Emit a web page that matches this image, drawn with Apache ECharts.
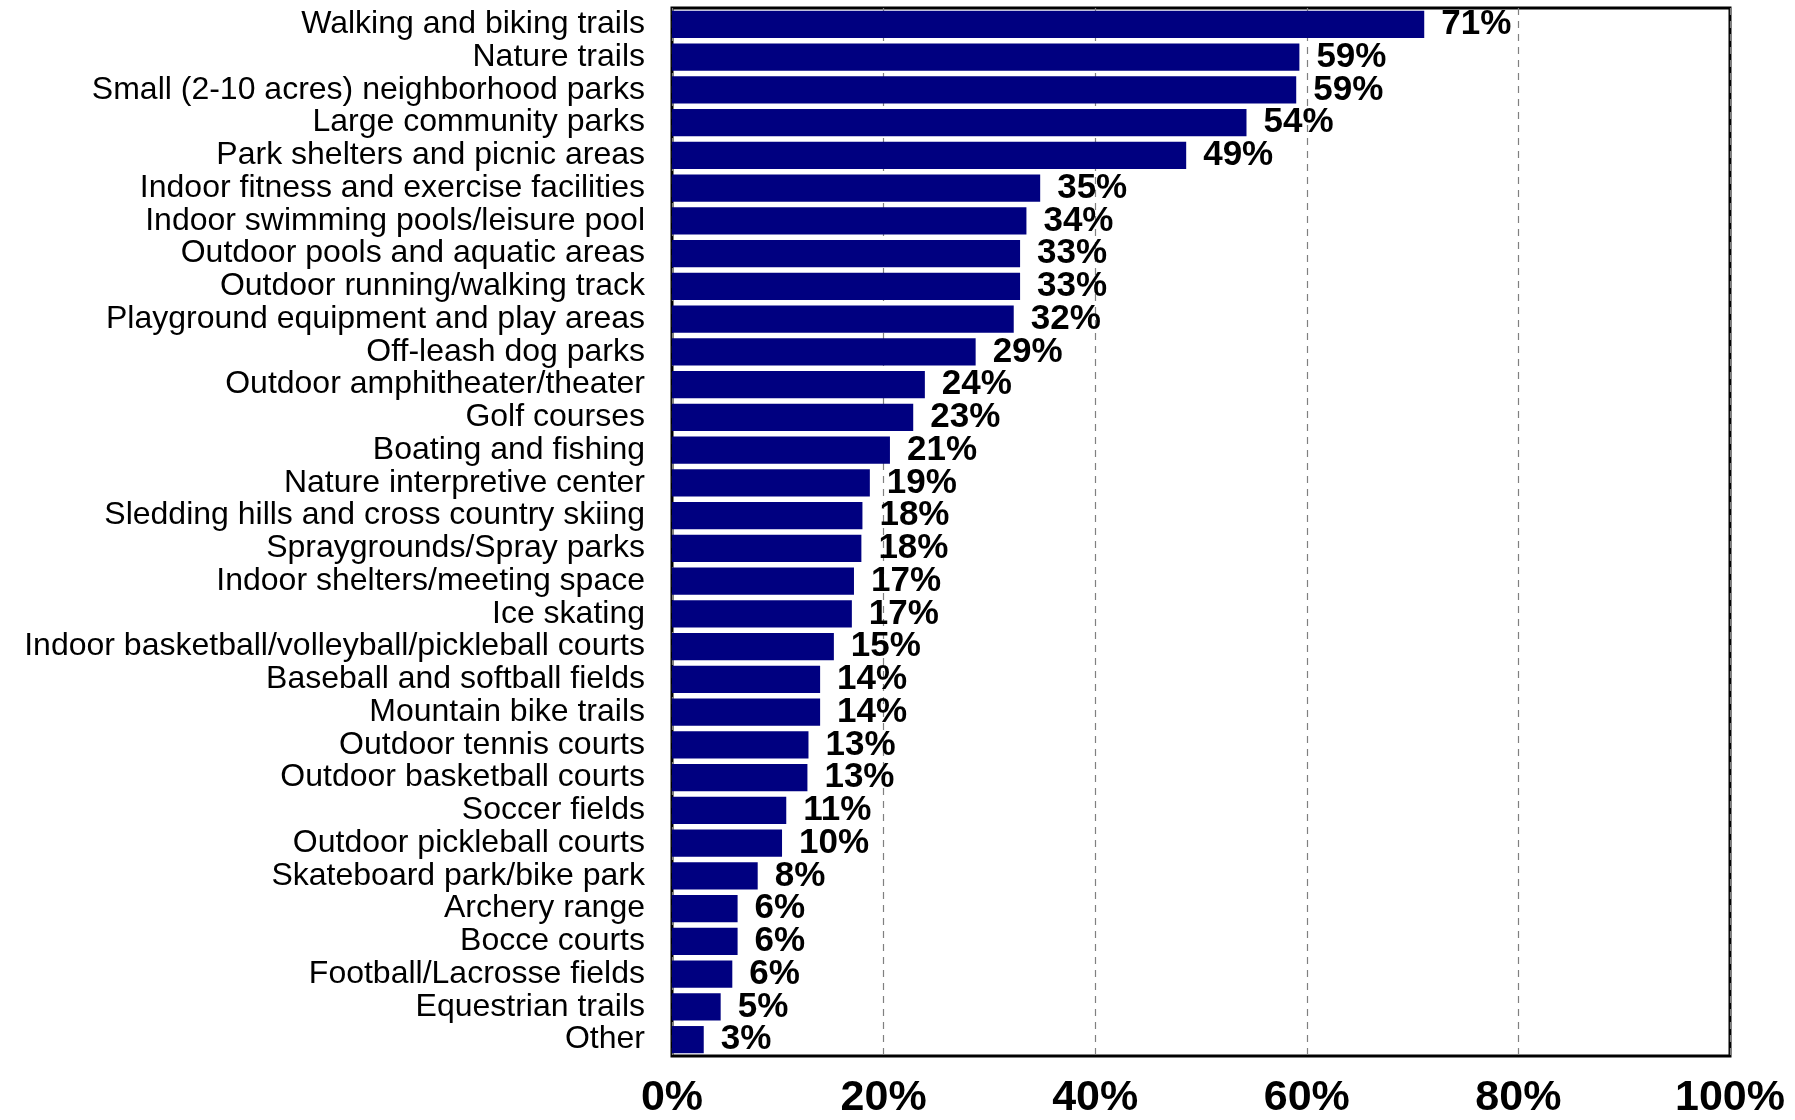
<!DOCTYPE html>
<html>
<head>
<meta charset="utf-8">
<script src="https://cdn.jsdelivr.net/npm/echarts@6/dist/echarts.min.js"></script>
<style>
html,body{margin:0;padding:0;background:#fff;}
#chart{width:1795px;height:1120px;}
</style>
</head>
<body>
<div id="chart"></div>
<script>
const categories = [
  "Walking and biking trails",
  "Nature trails",
  "Small (2-10 acres) neighborhood parks",
  "Large community parks",
  "Park shelters and picnic areas",
  "Indoor fitness and exercise facilities",
  "Indoor swimming pools/leisure pool",
  "Outdoor pools and aquatic areas",
  "Outdoor running/walking track",
  "Playground equipment and play areas",
  "Off-leash dog parks",
  "Outdoor amphitheater/theater",
  "Golf courses",
  "Boating and fishing",
  "Nature interpretive center",
  "Sledding hills and cross country skiing",
  "Spraygrounds/Spray parks",
  "Indoor shelters/meeting space",
  "Ice skating",
  "Indoor basketball/volleyball/pickleball courts",
  "Baseball and softball fields",
  "Mountain bike trails",
  "Outdoor tennis courts",
  "Outdoor basketball courts",
  "Soccer fields",
  "Outdoor pickleball courts",
  "Skateboard park/bike park",
  "Archery range",
  "Bocce courts",
  "Football/Lacrosse fields",
  "Equestrian trails",
  "Other"
];
const values = [71.1, 59.3, 59.0, 54.3, 48.6, 34.8, 33.5, 32.9, 32.9, 32.3, 28.7, 23.9, 22.8, 20.6, 18.7, 18.0, 17.9, 17.2, 17.0, 15.3, 14.0, 14.0, 12.9, 12.8, 10.8, 10.4, 8.1, 6.2, 6.2, 5.7, 4.6, 3.0];
const xTicks = [0, 20, 40, 60, 80, 100];

const FONT = '"Liberation Sans Narrow", "Liberation Sans", Arial, sans-serif';
const chart = echarts.init(document.getElementById('chart'), null, {renderer: 'canvas'});
chart.setOption({
  animation: false,
  backgroundColor: '#fff',
  grid: {
    left: 672, right: 65, top: 8, bottom: 61,
    show: true, borderColor: '#000', borderWidth: 3, backgroundColor: 'transparent',
    containLabel: false
  },
  xAxis: {
    type: 'value',
    min: xTicks[0], max: xTicks[xTicks.length - 1], interval: 20,
    axisLine: {show: false},
    axisTick: {show: false},
    splitLine: {show: true, lineStyle: {color: '#808080', type: [7, 6], width: 1.2}},
    axisLabel: {
      formatter: '{value}%', fontFamily: FONT, fontWeight: 'bold', fontSize: 43,
      color: '#000', margin: 21
    }
  },
  yAxis: {
    type: 'category', data: categories, inverse: true,
    axisLine: {show: false},
    axisTick: {show: false},
    splitLine: {show: false},
    axisLabel: {interval: 0, fontFamily: FONT, fontSize: 32, color: '#000', margin: 27}
  },
  series: [{
    type: 'bar', data: values,
    barCategoryGap: '17%',
    itemStyle: {color: '#000080'},
    label: {
      show: true, position: 'right', distance: 17,
      formatter: p => Math.round(p.value) + '%',
      fontFamily: FONT, fontWeight: 'bold', fontSize: 35, color: '#000'
    }
  }]
});
</script>
</body>
</html>
